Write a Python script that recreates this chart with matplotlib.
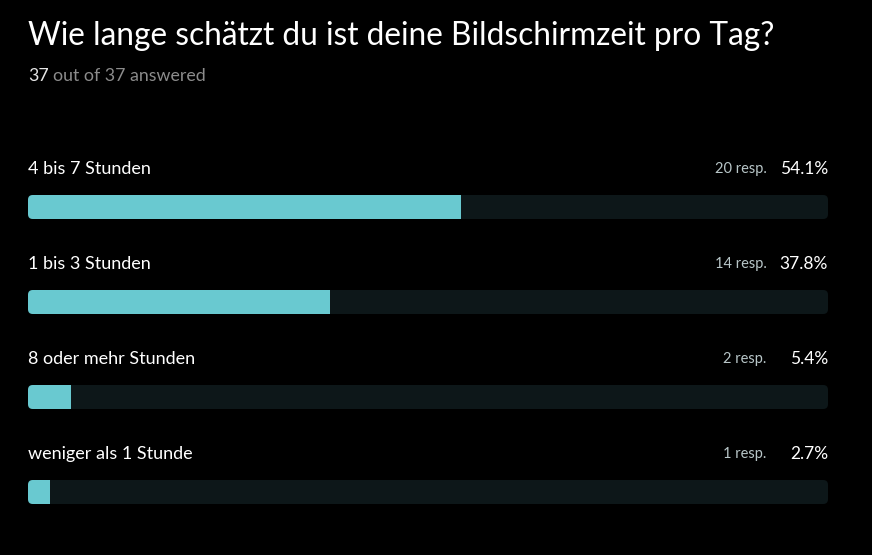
import matplotlib
matplotlib.use("Agg")
import matplotlib.pyplot as plt
from matplotlib.patches import FancyBboxPatch

# Umfragedaten
title = "Wie lange schätzt du ist deine Bildschirmzeit pro Tag?"
answered = 37
total = 37
categories = ["4 bis 7 Stunden", "1 bis 3 Stunden", "8 oder mehr Stunden", "weniger als 1 Stunde"]
responses = [20, 14, 2, 1]
percents = [54.1, 37.8, 5.4, 2.7]

W, H = 872, 555
fig = plt.figure(figsize=(W / 100, H / 100), dpi=100, facecolor="black")
plt.rcParams["font.family"] = ["Lato", "DejaVu Sans"]

# Achse: x in Prozent (0..100), y in Pixeln von oben
left, width = 28, 800
ax = fig.add_axes([left / W, 0, width / W, 1])
ax.set_xlim(0, 100)
ax.set_ylim(H, 0)
ax.axis("off")
ax.set_facecolor("black")

teal = "#69c9d0"
track = "#0d1719"
aspect = 1 / (100 / width)  # y-Einheiten pro x-Einheit
bar_h = 24
first_top = 195
step = 95

for i, (cat, n, p) in enumerate(zip(categories, responses, percents)):
    top = first_top + i * step
    bg = FancyBboxPatch((0, top), 100, bar_h,
                        boxstyle="round,pad=0,rounding_size=0.6",
                        mutation_aspect=aspect, fc=track, ec="none")
    ax.add_patch(bg)
    bars = ax.barh(top + bar_h / 2, p, height=bar_h, left=0, color=teal)
    for b in bars:
        b.set_clip_path(bg)
    ty = top - 26
    ax.text(0, ty, cat, color="white", fontsize=13, va="center", ha="left")
    ax.text(100, ty, f"{p}%", color="white", fontsize=12.5, va="center", ha="right")
    ax.text(92.3, ty, f"{n} resp.", color="#b8c6c8", fontsize=10.5, va="center", ha="right")

fig.text(left / W, 1 - 36 / H, title, color="white", fontsize=22.8, va="center", ha="left")
t1 = fig.text(left / W, 1 - 76 / H, f"{answered}", color="#e6e6e6", fontsize=12.8, va="center", ha="left")
fig.canvas.draw()
bb = t1.get_window_extent()
fig.text((bb.x1 + 4) / W, 1 - 76 / H, f"out of {total} answered", color="#8c8c8c",
         fontsize=12.8, va="center", ha="left")

fig.savefig("out.png", dpi=100, facecolor="black")
